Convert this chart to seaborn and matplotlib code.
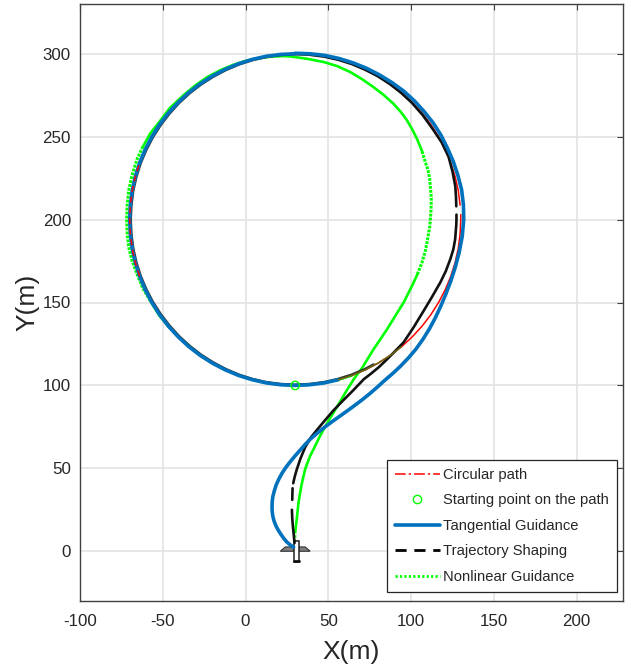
import pandas as pd
import matplotlib
matplotlib.use('Agg')
import matplotlib.pyplot as plt
from matplotlib.lines import Line2D
import seaborn as sns

# circular path (bottom, right side, top)
circle_x = [30, 38.7, 47.4, 55.9, 64.2, 72.3, 80, 87.4, 94.3, 100.7, 106.6, 111.9, 116.6, 120.6, 124, 126.6, 128.5, 129.6, 130, 130,
            129.6, 128.5, 126.6, 124, 120.6, 116.6, 111.9, 106.6, 100.7, 94.3, 87.4, 80, 72.3, 64.2, 55.9, 47.4, 38.7, 30]
circle_y = [100, 100.4, 101.5, 103.4, 106, 109.4, 113.4, 118.1, 123.4, 129.3, 135.7, 142.6, 150, 157.7, 165.8, 174.1, 182.6, 191.3, 200, 203,
            208.7, 217.4, 225.9, 234.2, 242.3, 250, 257.4, 264.3, 270.7, 276.6, 281.9, 286.6, 290.6, 294, 296.6, 298.5, 299.6, 300]
circle_seg = [0] * 20 + [1] * 18
# left half and back round to the start, shared by the curves that sit on the path
left_x = [30, 21.3, 12.6, 4.1, -4.2, -12.3, -20, -27.4, -34.3, -40.7, -46.6, -51.9, -56.6, -60.6, -64, -66.6, -68.5, -69.6, -70,
          -69.6, -68.5, -66.6, -64, -60.6, -56.6, -51.9, -46.6, -40.7, -34.3, -27.4, -20, -12.3, -4.2, 4.1, 12.6, 21.3, 30, 38.7, 47.4, 55.9]
left_y = [300, 299.6, 298.5, 296.6, 294, 290.6, 286.6, 281.9, 276.6, 270.7, 264.3, 257.4, 250, 242.3, 234.2, 225.9, 217.4, 208.7, 200,
          191.3, 182.6, 174.1, 165.8, 157.7, 150, 142.6, 135.7, 129.3, 123.4, 118.1, 113.4, 109.4, 106, 103.4, 101.5, 100.4, 100, 100.4, 101.5, 103.4]
black_left_x = [38.7, 30, 21.3, 12.7, 4.3, -3.9, -11.9, -19.5, -26.9, -33.8, -40.2, -46, -51.3, -56, -60, -63.4, -66, -67.9, -69, -69.4,
                -69, -67.9, -66, -63.4, -60, -56, -51.3, -46, -40.2, -33.8, -26.9, -19.5, -11.9, -3.9, 4.3, 12.7, 21.3, 30, 38.6, 47.2, 55.7, 64, 72.1, 77.4]
black_left_y = [299.4, 299.7, 299.3, 298.1, 296.2, 293.6, 290.2, 286.2, 281.5, 276.2, 270.3, 263.9, 257, 249.7, 242, 234, 225.7, 217.3, 208.6, 200,
                191.4, 182.7, 174.3, 166, 158, 150.3, 143, 136.1, 129.7, 123.8, 118.5, 113.8, 109.8, 106.4, 103.8, 101.9, 100.8, 100.4, 100.8, 101.9, 103.8, 106.4, 109.8, 112.6]
# where red and green run on top of the black, reads as olive
olive_x = [55.9, 64.2, 72.3, 80, 87.4, 94.3]
olive_y = [103.4, 106, 109.4, 113.4, 118.1, 123.4]
red_top_x = [-64, -66.6, -68.5, -69.6, -70, -69.6, -68.5, -66.6, -64]
red_top_y = [165.8, 174.1, 182.6, 191.3, 200, 208.7, 217.4, 225.9, 234.2]
start_x = [30]
start_y = [100]

blue_x = [29, 27, 25, 23.2, 21.5, 19.9, 18.5, 17.3, 16.5, 16.1, 16, 16.1, 16.5, 17.4, 18.5, 20.1, 22, 24.3, 27, 29.9, 33, 36, 39, 43.5, 48,
          52.5, 57, 61.5, 66, 70.5, 75, 79.5, 84, 88.9, 93.5, 98.4, 103, 107.2, 111, 114.7, 118, 121.1, 124, 126.7, 129, 130.9, 131.8,
          131.6, 130.5, 128.3, 125.5, 122, 118, 113.4, 108, 102.1, 95.5, 88.5, 81, 73.2, 65, 56.6, 48, 39, 30]
blue_y = [2.5, 3.8, 5.5, 7.6, 10, 12.5, 15, 18, 21, 24, 27, 30, 33, 36.5, 40, 43.5, 47, 50.5, 54, 57.5, 61, 64.4, 67.5, 71.4, 75,
          78.3, 81.5, 84.7, 88, 91.4, 95, 98.9, 103, 107.2, 111.5, 116.6, 122, 127.9, 134, 140.9, 148, 155.4, 163, 171.4, 180, 190, 200,
          209, 218, 226.5, 235, 243, 251, 258.2, 265, 271.5, 277.5, 282.6, 287.2, 291.2, 294.5, 297.1, 299, 300, 300.3]

black_seg = [0] * 5 + [1] * 2 + [2] * 28 + [3] * 17
black_x = [29.6, 29.2, 28.6, 28.2, 28, 28.2, 28.4, 28.8, 29.7, 31, 33.2, 36, 39.6, 43, 47, 53, 59, 65, 71.5, 75.4, 80.5, 85, 90, 95.5, 101.5,
           107.6, 112.7, 117.7, 121, 123.7, 125.5, 126.6, 127.3, 127.4, 127.4,
           127.3, 127.1, 126.7, 125, 122.6, 118.5, 113, 107, 100.5, 94, 87.2, 80, 72.2, 64.2, 55.9, 47.4, 38.7]
black_y = [5, 9, 15, 20, 25, 31, 38, 41, 45, 49.5, 56, 62.7, 68.8, 73, 77.8, 84.8, 91, 97, 103.8, 106.8, 111, 115.3, 120.3, 126, 135,
           145, 153.5, 162.2, 169, 176.2, 182, 188, 197, 200, 203,
           208, 214, 220, 229, 238, 246.5, 254.7, 263, 270.4, 276.4, 281.7, 286.4, 290.4, 293.8, 296.4, 298.3, 299.4]

green_low_x = [29.6, 30]
green_low_y = [3, 11.5]
green_rise_x = [30, 31, 32, 33.8, 36, 38.8, 42, 45, 48, 51.5, 55.5, 60.5, 65.4, 70.4, 77.4, 85.5, 90.5, 95.5, 100.6, 103.8]
green_rise_y = [11.5, 20, 29.5, 40, 49.5, 57, 63.4, 69.5, 75, 81, 87.5, 96, 103.8, 110.5, 121.9, 133.9, 142, 150, 160.1, 167]
green_right_x = [103.8, 106.6, 108.6, 110, 111.3, 112, 112.2, 111.2, 110.2, 108.6, 106.5]
green_right_y = [167, 174.2, 181, 188.3, 196, 205, 213, 224.9, 230, 234.6, 241.5]
green_top_x = [106.5, 103.6, 100.8, 97.6, 93.8, 89.5, 83.6, 77.4, 70.5, 63.4, 55.5, 47.3, 37, 27, 22.5, 15, 7.5, 0,
               -7.5, -15, -23, -30, -37.5, -46, -52, -57.5, -62]
green_top_y = [241.5, 248.6, 254.2, 259.7, 264.9, 269.7, 275, 279.8, 284.6, 288.9, 292.5, 295, 297, 298.4, 298.6, 298.2, 297.2, 295.7,
               293.3, 290.2, 286, 281.2, 275, 267, 259, 252, 244]
green_left_x = [-62, -65.5, -68.5, -70.5, -71.5, -71.8, -71.5, -70.5, -68.5, -65.5, -62, -57]
green_left_y = [244, 236.5, 227, 218, 209, 200, 191, 183, 175, 167, 158.5, 150]
green_end_x = [-57, -52, -46, -40, -33, -27, -20, -12, -4, 4.5, 13, 21.5, 30, 38.7, 47.4, 55.9, 64.2]
green_end_y = [150, 142, 135, 129, 123, 118, 113.5, 109.5, 106, 103.5, 101.5, 100.4, 100, 100.4, 101.5, 103.4, 106]

# little vehicle glyph at the launch point
wing_x = [21, 24, 36, 39, 21]
wing_y = [0, 2.6, 2.6, 0, 0]
body_x = [29, 29, 32, 32, 29]
body_y = [-6.5, 6, 6, -6.5, -6.5]
tail_x = [29, 32]
tail_y = [-5.6, -5.6]

x_ticks = [-100, -50, 0, 50, 100, 150, 200]
y_ticks = [0, 50, 100, 150, 200, 250, 300]

RED = '#ff0000'
GREEN = '#00ff00'
BLUE = '#0072bd'
DARK = '#404040'
DOTS = (0, (0.9, 0.4))

sns.set_style('whitegrid')
plt.rcParams['font.family'] = ['Liberation Sans', 'DejaVu Sans']
plt.rcParams['axes.unicode_minus'] = False

fig = plt.figure(figsize=(6.31, 6.67), dpi=100)
ax = fig.add_axes([80 / 631, 1 - 601 / 667, 543 / 631, 597 / 667])


def line(x, y, **kw):
    sns.lineplot(x=x, y=y, sort=False, estimator=None, ax=ax, **kw)


def segs(x, y, seg, **kw):
    df = pd.DataFrame({'x': x, 'y': y, 'seg': seg})
    sns.lineplot(data=df, x='x', y='y', units='seg', estimator=None, sort=False, ax=ax, **kw)


segs(circle_x, circle_y, circle_seg, color=RED, lw=1.1, zorder=3)
line(left_x, left_y, color=RED, lw=1.1, zorder=3)

line(green_low_x, green_low_y, color=GREEN, lw=2, linestyle=(0, (0.8, 0.8)), zorder=4)
line(green_rise_x, green_rise_y, color=GREEN, lw=1.9, zorder=4)
line(green_right_x, green_right_y, color=GREEN, lw=2.2, linestyle=DOTS, zorder=4)
line(green_top_x, green_top_y, color=GREEN, lw=1.9, zorder=4)
line(green_left_x, green_left_y, color=GREEN, lw=2.2, linestyle=DOTS, zorder=4)
line(green_end_x, green_end_y, color=GREEN, lw=1.9, zorder=4)

segs(black_x, black_y, black_seg, color='#111111', lw=1.9, zorder=5)
line(black_left_x, black_left_y, color='#333333', lw=1.9, zorder=5)
line(left_x, left_y, color=BLUE, lw=2.6, zorder=6)
line(blue_x, blue_y, color=BLUE, lw=2.6, zorder=6)
line(olive_x, olive_y, color='#6e6a10', lw=1.1, zorder=6.5)
line(red_top_x, red_top_y, color=RED, lw=1.1, linestyle=(0, (4, 3)), zorder=7)
sns.scatterplot(x=start_x, y=start_y, marker='o', s=36, facecolor='none',
                edgecolor=GREEN, linewidth=1, ax=ax, zorder=8)

ax.fill(wing_x, wing_y, facecolor='#808080', edgecolor='#333333', lw=0.8, zorder=4)
ax.fill(body_x, body_y, facecolor='white', edgecolor='#222222', lw=1.1, zorder=4.5)
line(tail_x, tail_y, color='#111111', lw=2, zorder=4.6)

ax.set_xlim(-100, 228)
ax.set_ylim(-30, 330)
ax.set_xticks(x_ticks)
ax.set_yticks(y_ticks)
ax.set_xlabel('X(m)', fontsize=19, color='#262626', labelpad=8)
ax.set_ylabel('Y(m)', fontsize=19, color='#262626', labelpad=2)
ax.tick_params(axis='both', labelsize=12.2, direction='in', length=4, width=0.8,
               color=DARK, labelcolor='#262626', top=True, right=True, pad=9)
ax.tick_params(axis='y', pad=6.5)
ax.grid(True, color='#e3e3e3', lw=1.2)
ax.set_axisbelow(True)
for s in ax.spines.values():
    s.set_color(DARK)
    s.set_linewidth(1)

handles = [
    Line2D([], [], color=RED, lw=1.1, linestyle=(0, (7, 2, 1.5, 2))),
    Line2D([], [], color=GREEN, marker='o', ms=6, mfc='none', mew=1, linestyle='none'),
    Line2D([], [], color=BLUE, lw=2.6),
    Line2D([], [], color='black', lw=2, linestyle=(0, (4, 2.8))),
    Line2D([], [], color=GREEN, lw=2, linestyle=(0, (0.8, 0.8))),
]
labels = ['Circular path', 'Starting point on the path', 'Tangential Guidance',
          'Trajectory Shaping', 'Nonlinear Guidance']
leg = ax.legend(handles, labels, loc='lower left',
                bbox_to_anchor=((387 - 80) / 543, (601 - 592) / 597), fontsize=10.6,
                frameon=True, fancybox=False, framealpha=1, edgecolor='#262626',
                handlelength=3.03, handletextpad=0.22, labelspacing=0.78,
                borderpad=0.55, borderaxespad=0)
leg.get_frame().set_linewidth(0.9)
leg.set_zorder(20)

fig.savefig('out.png', dpi=100)
